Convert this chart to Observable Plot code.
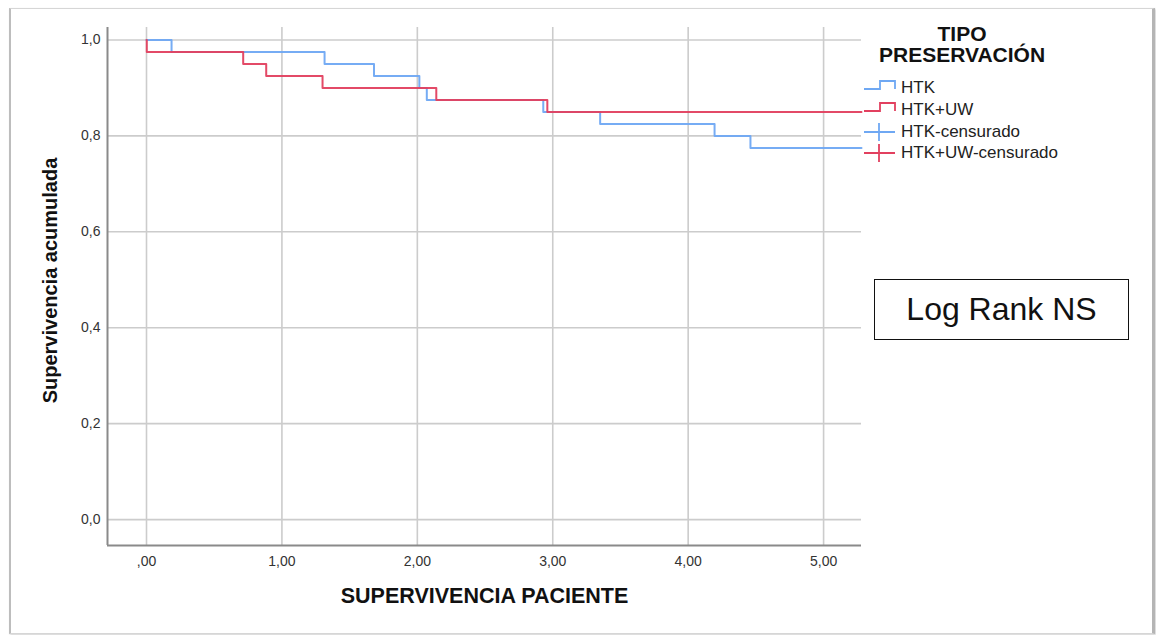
<!DOCTYPE html>
<html>
<head>
<meta charset="utf-8">
<script src="https://cdn.jsdelivr.net/npm/d3@7"></script>
<script src="https://cdn.jsdelivr.net/npm/@observablehq/plot@0.6"></script>
<style>
  html, body { margin: 0; padding: 0; background: #fff; }
  body { font-family: "Liberation Sans", Arial, sans-serif; }
  #wrap { position: relative; width: 1156px; height: 635px; overflow: hidden; }
  #frame { position: absolute; left: 9px; top: 8px; width: 1141px; height: 624px;
           border: 1px solid #d6d6d6; border-left: 2px solid #bdbdbd; border-right: 3px solid #b5b5b5;
           box-shadow: 1px 1px 2px #cfcfcf; }
  #chart { position: absolute; left: 0; top: 0; }
  #legend { position: absolute; left: 0; top: 0; }
  .title { position: absolute; font-weight: bold; font-size: 21px; color: #111; text-align: center; width: 240px; left: 842px; top: 23px; line-height: 21px; }
  .item { position: absolute; left: 864px; height: 20px; font-size: 17px; color: #222; }
  #logrank { position: absolute; left: 874px; top: 279px; width: 253px; height: 59px; border: 1.5px solid #111;
             font-size: 32px; line-height: 59px; text-align: center; color: #111; background: #fff; }
</style>
</head>
<body>
<div id="wrap">
  <div id="frame"></div>
  <div id="chart"></div>
  <div id="legend"></div>
  <div id="logrank">Log Rank NS</div>
</div>
<script>
// ---- data ----
const xTicks = [0, 1, 2, 3, 4, 5];
const xTickLabels = [",00", "1,00", "2,00", "3,00", "4,00", "5,00"];
const yTicks = [0, 0.2, 0.4, 0.6, 0.8, 1.0];
const yTickLabels = ["0,0", "0,2", "0,4", "0,6", "0,8", "1,0"];

const groups = ["HTK", "HTK+UW"];
const groupColors = ["#6fa8f3", "#e2405f"];

// Kaplan-Meier step points (time, cumulative survival)
const htkTime = [0, 0.185, 1.315, 1.68, 2.015, 2.07, 2.93, 3.35, 4.195, 4.46, 5.28];
const htkSurv = [1.0, 0.975, 0.95, 0.925, 0.9, 0.875, 0.85, 0.825, 0.8, 0.775, 0.775];
const uwTime = [0, 0.002, 0.714, 0.884, 1.30, 2.14, 2.96, 5.28];
const uwSurv = [1.0, 0.975, 0.95, 0.925, 0.9, 0.875, 0.85, 0.85];

const legendLabels = ["HTK", "HTK+UW", "HTK-censurado", "HTK+UW-censurado"];
const xTitle = "SUPERVIVENCIA PACIENTE";
const yTitle = "Supervivencia acumulada";
const legendTitle = ["TIPO", "PRESERVACIÓN"];

const xDomain = [-0.288, 5.28];
const yDomain = [-0.054, 1.026];

// ---- build rows ----
const rows = [
  ...htkTime.map((t, i) => ({group: groups[0], time: t, surv: htkSurv[i]})),
  ...uwTime.map((t, i) => ({group: groups[1], time: t, surv: uwSurv[i]}))
];

const chart = Plot.plot({
  width: 1156,
  height: 635,
  marginLeft: 107,
  marginRight: 295,
  marginTop: 27,
  marginBottom: 90,
  style: {background: "transparent", fontFamily: "Liberation Sans, Arial, sans-serif", overflow: "visible"},
  x: {domain: xDomain},
  y: {domain: yDomain},
  color: {domain: groups, range: groupColors},
  marks: [
    Plot.gridX(xTicks, {stroke: "#cccccc", strokeOpacity: 1, strokeWidth: 1.6}),
    Plot.gridY(yTicks, {stroke: "#cccccc", strokeOpacity: 1, strokeWidth: 1.6}),
    Plot.ruleX([xDomain[0]], {stroke: "#8a8a8a", strokeWidth: 2}),
    Plot.ruleY([yDomain[0]], {stroke: "#8a8a8a", strokeWidth: 2}),
    Plot.axisX(xTicks, {tickSize: 0, tickPadding: 11, fontSize: 14, fill: "#333",
      tickFormat: (d) => xTickLabels[xTicks.indexOf(d)], label: null}),
    Plot.axisY(yTicks, {tickSize: 0, tickPadding: 7, fontSize: 14, fill: "#333",
      tickFormat: (d) => yTickLabels[yTicks.indexOf(d)], label: null}),
    Plot.line(rows, {x: "time", y: "surv", z: "group", stroke: "group",
      curve: "step-after", strokeWidth: 2, strokeOpacity: 0.95}),
    Plot.text([xTitle], {frameAnchor: "bottom", dy: 57, fontSize: 21.5, fontWeight: "bold", fill: "#111"}),
    Plot.text([yTitle], {frameAnchor: "left", textAnchor: "middle", dx: -57, dy: -6, rotate: -90,
      fontSize: 20, fontWeight: "bold", fill: "#111"})
  ]
});
document.getElementById("chart").appendChild(chart);

// ---- legend ----
const legend = d3.select("#legend");
legend.append("div").attr("class", "title").html(legendTitle.join("<br>"));

const itemY = [88, 110, 132, 153];
legendLabels.forEach((lab, i) => {
  const color = groupColors[i % 2];
  const censored = i >= 2;
  const div = legend.append("div").attr("class", "item")
    .style("top", (itemY[i] - 10) + "px").style("width", "260px");
  const svg = div.append("svg").attr("width", 34).attr("height", 20)
    .style("position", "absolute").style("left", "0px").style("top", "0px").style("overflow", "visible");
  if (!censored) {
    svg.append("path").attr("d", "M0,11 H16 V3 H31 V11")
      .attr("fill", "none").attr("stroke", color).attr("stroke-width", 1.8);
  } else {
    svg.append("path").attr("d", "M0,10 H31 M15,1 V19")
      .attr("fill", "none").attr("stroke", color).attr("stroke-width", 1.8);
  }
  div.append("span").text(lab)
    .style("position", "absolute").style("left", "37px").style("top", "0px")
    .style("line-height", "20px").style("white-space", "nowrap");
});
</script>
</body>
</html>
